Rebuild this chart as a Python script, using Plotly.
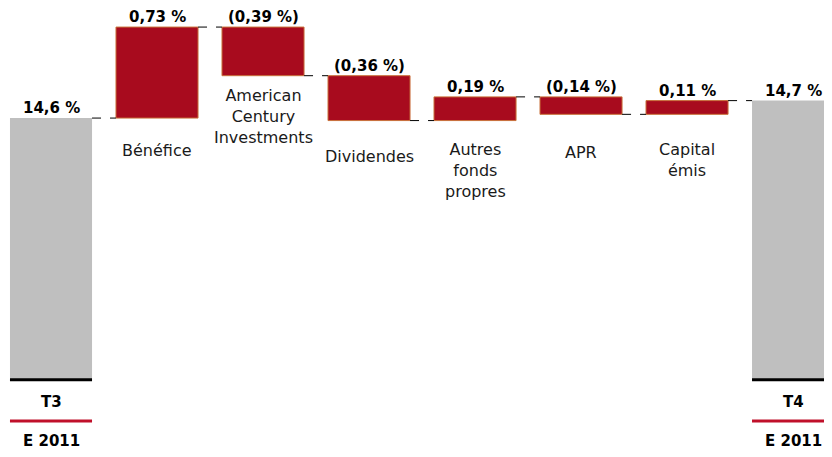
import plotly.graph_objects as go

# Data
categories = ["T3", "Bénéfice", "American<br>Century<br>Investments", "Dividendes",
              "Autres<br>fonds<br>propres", "APR", "Capital<br>émis", "T4"]
start_value = 14.6
changes = [0.73, -0.39, -0.36, 0.19, -0.14, 0.11]
end_value = 14.7
axis_base = 12.5
period_labels = ["T3", "T4"]
year_labels = ["E 2011", "E 2011"]

RED = "#A80B1E"
GRAY = "#BFBFBF"
FONT = "DejaVu Sans"
H = 457
OFF = 8  # page body margin

def pct(v, paren=False):
    s = f"{abs(v):.2f}".replace(".", ",") + " %"
    return f"({s})" if paren and v < 0 else s

def paper(py):
    # py is the pixel position in the window
    return 1 - (py - OFF) / H

# cumulative levels
levels = [start_value]
for c in changes:
    levels.append(levels[-1] + c)

bw = 0.774
n = len(categories)
fig = go.Figure()

# totals
fig.add_trace(go.Bar(x=[0, n - 1], y=[start_value - axis_base, end_value - axis_base + 0.04],
                     base=axis_base, width=bw, marker=dict(color=GRAY, line=dict(width=0)),
                     hoverinfo="skip"))
# changes
bases = [min(levels[i], levels[i + 1]) for i in range(len(changes))]
fig.add_trace(go.Bar(x=list(range(1, n - 1)), y=[abs(c) for c in changes], base=bases,
                     width=bw, marker=dict(color=RED, line=dict(color="#C8703A", width=1)),
                     hoverinfo="skip"))

shapes = []
# connectors
for i in range(len(levels)):
    shapes.append(dict(type="line", xref="x", yref="y", x0=i + bw / 2, x1=i + 1 - bw / 2,
                       y0=levels[i], y1=levels[i], line=dict(color="black", width=1, dash="dash")))

annotations = []
# value labels
tops = [start_value] + [max(levels[i], levels[i + 1]) for i in range(len(changes))] + [levels[-1]]
texts = [f"{start_value:.1f}".replace(".", ",") + " %"] + [pct(c, True) for c in changes] + \
        [f"{end_value:.1f}".replace(".", ",") + " %"]
for i, (t, y) in enumerate(zip(texts, tops)):
    annotations.append(dict(x=i, y=y, xref="x", yref="y", text=f"<b>{t}</b>", showarrow=False,
                            yanchor="bottom", yshift=0, borderpad=0,
                            font=dict(family=FONT, size=15, color="black")))

# category labels
label_py = [150, 116, 156, 170, 152, 160]
for i, py in enumerate(label_py):
    annotations.append(dict(x=i + 1, y=paper(py), xref="x", yref="paper", text=categories[i + 1],
                            showarrow=False, yanchor="middle",
                            font=dict(family=FONT, size=16, color="#1a1a1a")))

# bottom labels under totals
for j, xi in enumerate([0, n - 1]):
    shapes.append(dict(type="line", xref="x", yref="y", x0=xi - bw / 2, x1=xi + bw / 2,
                       y0=axis_base, y1=axis_base, line=dict(color="black", width=3)))
    shapes.append(dict(type="line", xref="x", yref="paper", x0=xi - bw / 2, x1=xi + bw / 2,
                       y0=paper(421), y1=paper(421), line=dict(color="#C0102A", width=3)))
    annotations.append(dict(x=xi, y=paper(402), xref="x", yref="paper", text=f"<b>{period_labels[j]}</b>",
                            showarrow=False, yanchor="middle", font=dict(family=FONT, size=15, color="black")))
    annotations.append(dict(x=xi, y=paper(441), xref="x", yref="paper", text=f"<b>{year_labels[j]}</b>",
                            showarrow=False, yanchor="middle", font=dict(family=FONT, size=15, color="black")))

fig.update_layout(
    width=832, height=457, margin=dict(l=0, r=0, t=0, b=0),
    plot_bgcolor="white", paper_bgcolor="white", showlegend=False, barmode="overlay",
    xaxis=dict(range=[-0.4057, 7.443], visible=False, fixedrange=True),
    yaxis=dict(range=[11.817, 15.483], visible=False, fixedrange=True),
    shapes=shapes, annotations=annotations,
)

fig.write_html("out.html")
